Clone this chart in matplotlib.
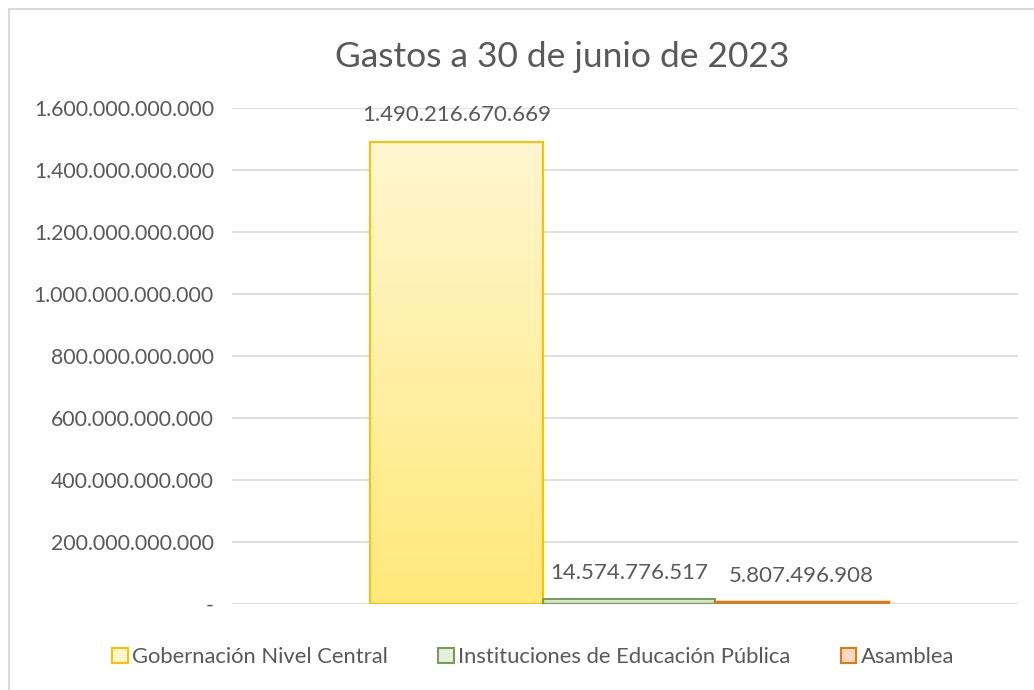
import numpy as np
import matplotlib
matplotlib.use("Agg")
import matplotlib.pyplot as plt
from matplotlib.patches import Rectangle
from matplotlib.colors import LinearSegmentedColormap

plt.rcParams['font.family'] = ['Lato', 'DejaVu Sans']

# data
series = ["Gobernación Nivel Central", "Instituciones de Educación Pública", "Asamblea"]
values = [1490216670669, 14574776517, 5807496908]
yticks = [0, 200e9, 400e9, 600e9, 800e9, 1000e9, 1200e9, 1400e9, 1600e9]

# gradient (top, bottom) and edge per series
grad = [("#FFF6D0", "#FFE97A"), ("#E6EEDC", "#C9DBB8"), ("#FBD9C3", "#F4B183")]
edges = ["#FFC000", "#7A9A5E", "#E07B14"]

txt = "#595959"

def fmt(v):
    if v == 0:
        return "-"
    return f"{v:,.0f}".replace(",", ".")

fig = plt.figure(figsize=(10.34, 6.9), dpi=100)
ax = fig.add_axes([232/1034, 1 - 604/690, (1018-232)/1034, (604-108)/690])

x = np.arange(len(values))
w = 1.0
for i, v in enumerate(values):
    cmap = LinearSegmentedColormap.from_list("g%d" % i, [grad[i][1], grad[i][0]])
    g = np.linspace(0, 1, 256).reshape(-1, 1)
    ax.imshow(g, cmap=cmap, origin="lower", aspect="auto",
              extent=[x[i] - w/2, x[i] + w/2, 0, v], zorder=2)
    ax.add_patch(Rectangle((x[i] - w/2, 0), w, v, fill=False,
                           edgecolor=edges[i], lw=1.5 if i < 2 else 2.5, zorder=3))
    ax.annotate(fmt(v), (x[i], v), xytext=(0, 12), textcoords="offset points",
                ha="center", va="bottom", fontsize=16, color=txt, zorder=4)

ax.set_xlim(-1.299, 3.253)
ax.set_ylim(0, 1600e9)
ax.set_yticks(yticks)
ax.set_yticklabels([fmt(t) for t in yticks], fontsize=15.3, color=txt)
ax.set_xticks([])
ax.grid(axis="y", color="#D9D9D9", lw=1.2, zorder=0)
ax.tick_params(axis="y", length=0, pad=13)
for s in ax.spines.values():
    s.set_visible(False)
ax.set_axisbelow(True)

fig.text(562/1034, 1 - 57/690, "Gastos a 30 de junio de 2023", ha="center", va="center",
         fontsize=25.5, color=txt)

handles = [Rectangle((0, 0), 1, 1, facecolor=grad[i][0], edgecolor=edges[i], lw=1.5)
           for i in range(3)]
fig.legend(handles, series, loc="center", bbox_to_anchor=(533/1034, 1 - 657/690), ncol=3,
           frameon=False, fontsize=15.8, labelcolor=txt, handlelength=0.7, handleheight=0.7,
           handletextpad=0.2, columnspacing=2.3)

# outer chart border
fig.patches.append(Rectangle((9/1034, -0.01), 1.02, 1 - 9/690 + 0.01, transform=fig.transFigure,
                             fill=False, edgecolor="#D9D9D9", lw=1.5))

fig.savefig("out.png", dpi=100)
